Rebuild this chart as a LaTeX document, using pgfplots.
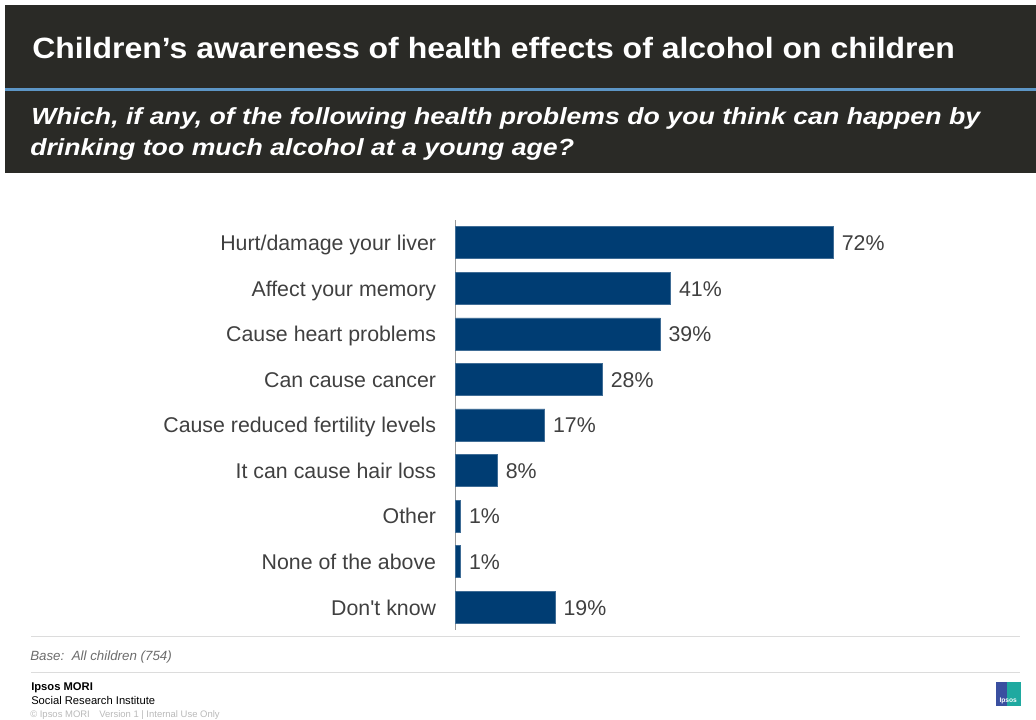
\documentclass[border=0pt]{standalone}
\usepackage{pgfplots}
\pgfplotsset{compat=1.18}
\usepackage{fontspec}
\setmainfont{Liberation Sans}
\newfontfamily\titlefont[FakeStretch=1.09]{Liberation Sans}
\newfontfamily\subfont[FakeStretch=1.143]{Liberation Sans}
\definecolor{band}{HTML}{2A2A26}
\definecolor{accent}{HTML}{5D96C6}
\definecolor{barblue}{HTML}{003D73}
\definecolor{txt}{HTML}{404040}
\definecolor{sep}{HTML}{DCDCDC}
\definecolor{logoblue}{HTML}{3A4FA0}
\definecolor{logoteal}{HTML}{1FA9A0}
\begin{document}
\begin{tikzpicture}[x=0.75pt,y=0.75pt]
\path[use as bounding box] (0,0) rectangle (1036,720);
% header band
\fill[band] (5,547) rectangle (1036,715);
\fill[accent] (5,628.5) rectangle (1036,631.7);
\node[anchor=base west, inner sep=0pt, text=white, font=\titlefont\bfseries\fontsize{22}{26}\selectfont] at (32,661.7) {Children’s awareness of health effects of alcohol on children};
\node[anchor=base west, inner sep=0pt, text=white, font=\subfont\bfseries\itshape\fontsize{17.5}{21}\selectfont] at (31,595.7) {Which, if any, of the following health problems do you think can happen by};
\node[anchor=base west, inner sep=0pt, text=white, font=\subfont\bfseries\itshape\fontsize{17.5}{21}\selectfont] at (30,564.5) {drinking too much alcohol at a young age?};
% chart
\begin{axis}[
  at={(341.625pt,67.5pt)}, anchor=south west,
  scale only axis, width=393.75pt, height=307.5pt,
  xmin=0, xmax=100, ymin=-0.5, ymax=8.5, y dir=reverse,
  xbar, bar width=24pt,
  axis x line=none, axis y line*=left,
  y axis line style={-, draw=gray!80, line width=0.8pt},
  ytick={0,...,8},
  yticklabels={Hurt/damage your liver, Affect your memory, Cause heart problems, Can cause cancer, Cause reduced fertility levels, It can cause hair loss, Other, None of the above, Don\textquotesingle t know},
  ytick style={draw=none},
  yticklabel style={font=\fontsize{16}{19}\selectfont, text=txt, inner sep=0pt, anchor=base east, xshift=-10.1pt, yshift=-5.9pt},
  /pgf/number format/assume math mode=true,
  nodes near coords={\pgfmathprintnumber{\pgfplotspointmeta}\%},
  nodes near coords style={font=\fontsize{16}{19}\selectfont, text=txt, inner sep=0pt, anchor=base west, xshift=6pt, yshift=-5.9pt},
  point meta=x,
  clip=false,
]
\addplot[fill=barblue, draw=barblue!75!white, line width=0.5pt] coordinates {(72,0) (41,1) (39,2) (28,3) (17,4) (8,5) (1,6) (1,7) (19,8)};
\end{axis}
% separators and footer
\draw[sep, line width=1.1pt] (31,83.3) -- (1020,83.3);
\draw[sep, line width=1.1pt] (31,47.3) -- (1020,47.3);
\node[anchor=base west, inner sep=0pt, text=gray!85!black, font=\itshape\fontsize{10}{12}\selectfont] at (30,59) {Base:\ \ All children (754)};
\node[anchor=base west, inner sep=0pt, text=black, font=\bfseries\fontsize{8.4}{10}\selectfont] at (31,29.3) {Ipsos MORI};
\node[anchor=base west, inner sep=0pt, text=black, font=\fontsize{8.4}{10}\selectfont] at (31,15.7) {Social Research Institute};
\node[anchor=base west, inner sep=0pt, text=gray!55, font=\fontsize{7.1}{8}\selectfont] at (30,2) {© Ipsos MORI\quad Version 1 | Internal Use Only};
% logo
\fill[logoblue] (995.7,14.3) rectangle (1007,38.3);
\fill[logoteal] (1007,14.3) rectangle (1020.7,38.3);
\node[anchor=base, inner sep=0pt, text=white, font=\bfseries\fontsize{5}{6}\selectfont] at (1008.2,17) {Ipsos};
\end{tikzpicture}
\end{document}
